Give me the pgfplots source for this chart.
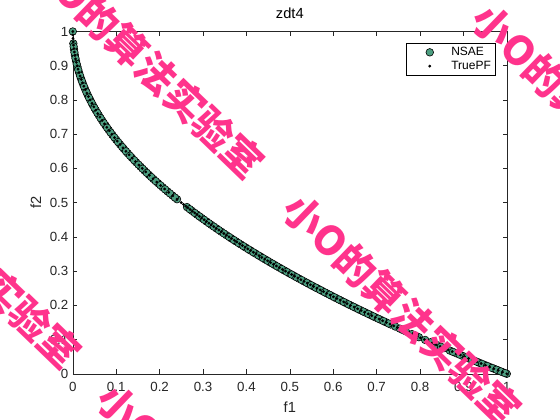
\documentclass[border=0pt]{standalone}
\usepackage{pgfplots}
\pgfplotsset{compat=1.18}
\usepackage{pgfplotstable}
\usepackage{fontspec}
\setmainfont{Liberation Sans}
\newfontfamily\cjk{Noto Sans CJK SC}
\definecolor{mgray}{rgb}{0.15,0.15,0.15}
\definecolor{nsae}{rgb}{0.30,0.62,0.50}
\definecolor{wm}{rgb}{1.0,0.2,0.55}

\pgfplotstableread{
f1 f2
0 1
0.001225 0.965
0.002704 0.948
0.004761 0.931
0.007396 0.914
0.010609 0.897
0.0144 0.88
0.018769 0.863
0.023409 0.847
0.028561 0.831
0.034225 0.815
0.04 0.8
0.046225 0.785
0.0529 0.77
0.060025 0.755
0.0676 0.74
0.075076 0.726
0.082944 0.712
0.091204 0.698
0.099856 0.684
0.1089 0.67
0.117649 0.657
0.126736 0.644
0.136161 0.631
0.145924 0.618
0.156025 0.605
0.165649 0.593
0.175561 0.581
0.185761 0.569
0.196249 0.557
0.207025 0.545
0.218089 0.533
0.229441 0.521
0.2401 0.51
0.263169 0.487
0.274576 0.476
0.286225 0.465
0.297025 0.455
0.308025 0.445
0.319225 0.435
0.330625 0.425
0.342225 0.415
0.354025 0.405
0.364816 0.396
0.375769 0.387
0.386884 0.378
0.398161 0.369
0.4096 0.36
0.421201 0.351
0.432964 0.342
0.443556 0.334
0.454276 0.326
0.465124 0.318
0.4761 0.31
0.487204 0.302
0.498436 0.294
0.509796 0.286
0.521284 0.278
0.5329 0.27
0.543169 0.263
0.553536 0.256
0.564001 0.249
0.574564 0.242
0.585225 0.235
0.595984 0.228
0.606841 0.221
0.617796 0.214
0.628849 0.207
0.64 0.2
0.651249 0.193
0.662596 0.186
0.674041 0.179
0.685584 0.172
0.697225 0.165
0.708964 0.158
0.720801 0.151
0.732736 0.144
0.743044 0.138
0.753424 0.132
0.767376 0.124
0.781456 0.116
0.797449 0.107
0.811801 0.099
0.824464 0.092
0.840889 0.083
0.855625 0.075
0.868624 0.068
0.8836 0.06
0.898704 0.052
0.912025 0.045
0.925444 0.038
0.937024 0.032
0.948676 0.026
0.9604 0.02
0.970225 0.015
0.9801 0.01
0.990025 0.005
1 0
0.001936 0.956
0.003721 0.939
0.006084 0.922
0.009025 0.905
0.012544 0.888
0.016641 0.871
0.021025 0.855
0.025921 0.839
0.031329 0.823
0.037249 0.807
0.043264 0.792
0.049729 0.777
0.056644 0.762
0.064009 0.747
0.071289 0.733
0.078961 0.719
0.087025 0.705
0.095481 0.691
0.104329 0.677
0.113569 0.663
0.1225 0.65
0.131769 0.637
0.141376 0.624
0.151321 0.611
0.160801 0.599
0.170569 0.587
0.180625 0.575
0.190969 0.563
0.201601 0.551
0.212521 0.539
0.223729 0.527
0.235225 0.515
0.269361 0.481
0.2809 0.47
0.2916 0.46
0.3025 0.45
0.3136 0.44
0.3249 0.43
0.3364 0.42
0.3481 0.41
0.36 0.4
0.370881 0.391
0.381924 0.382
0.393129 0.373
0.404496 0.364
0.416025 0.355
0.427716 0.346
0.438244 0.338
0.4489 0.33
0.459684 0.322
0.470596 0.314
0.481636 0.306
0.492804 0.298
0.5041 0.29
0.515524 0.282
0.527076 0.274
0.538756 0.266
0.549081 0.259
0.559504 0.252
0.570025 0.245
0.580644 0.238
0.591361 0.231
0.602176 0.224
0.613089 0.217
0.6241 0.21
0.635209 0.203
0.646416 0.196
0.657721 0.189
0.669124 0.182
0.680625 0.175
0.692224 0.168
0.703921 0.161
0.715716 0.154
0.727609 0.147
0.760384 0.128
0.788544 0.112
0.848241 0.079
0.876096 0.064
0.891136 0.056
0.906304 0.048
0.919681 0.041
0.931225 0.035
0.942841 0.029
0.954529 0.023
0.966289 0.017
0.976144 0.012
0.986049 0.007
0.996004 0.002
}\nsaedata

\pgfplotstableread{
f1 f2
0 1
0.0001 0.99
0.0004 0.98
0.0009 0.97
0.0016 0.96
0.0025 0.95
0.0036 0.94
0.0049 0.93
0.0064 0.92
0.0081 0.91
0.01 0.9
0.0121 0.89
0.0144 0.88
0.0169 0.87
0.0196 0.86
0.0225 0.85
0.0256 0.84
0.0289 0.83
0.0324 0.82
0.0361 0.81
0.04 0.8
0.0441 0.79
0.0484 0.78
0.0529 0.77
0.0576 0.76
0.0625 0.75
0.0676 0.74
0.0729 0.73
0.0784 0.72
0.0841 0.71
0.09 0.7
0.0961 0.69
0.1024 0.68
0.1089 0.67
0.1156 0.66
0.1225 0.65
0.1296 0.64
0.1369 0.63
0.1444 0.62
0.1521 0.61
0.16 0.6
0.1681 0.59
0.1764 0.58
0.1849 0.57
0.1936 0.56
0.2025 0.55
0.2116 0.54
0.2209 0.53
0.2304 0.52
0.2401 0.51
0.25 0.5
0.255025 0.495
0.2601 0.49
0.265225 0.485
0.2704 0.48
0.275625 0.475
0.2809 0.47
0.286225 0.465
0.2916 0.46
0.297025 0.455
0.3025 0.45
0.308025 0.445
0.3136 0.44
0.319225 0.435
0.3249 0.43
0.330625 0.425
0.3364 0.42
0.342225 0.415
0.3481 0.41
0.354025 0.405
0.36 0.4
0.366025 0.395
0.3721 0.39
0.378225 0.385
0.3844 0.38
0.390625 0.375
0.3969 0.37
0.403225 0.365
0.4096 0.36
0.416025 0.355
0.4225 0.35
0.429025 0.345
0.4356 0.34
0.442225 0.335
0.4489 0.33
0.455625 0.325
0.4624 0.32
0.469225 0.315
0.4761 0.31
0.483025 0.305
0.49 0.3
0.497025 0.295
0.5041 0.29
0.511225 0.285
0.5184 0.28
0.525625 0.275
0.5329 0.27
0.540225 0.265
0.5476 0.26
0.555025 0.255
0.5625 0.25
0.570025 0.245
0.5776 0.24
0.585225 0.235
0.5929 0.23
0.600625 0.225
0.6084 0.22
0.616225 0.215
0.6241 0.21
0.632025 0.205
0.64 0.2
0.648025 0.195
0.6561 0.19
0.664225 0.185
0.6724 0.18
0.680625 0.175
0.6889 0.17
0.697225 0.165
0.7056 0.16
0.714025 0.155
0.7225 0.15
0.731025 0.145
0.7396 0.14
0.748225 0.135
0.7569 0.13
0.765625 0.125
0.7744 0.12
0.783225 0.115
0.7921 0.11
0.801025 0.105
0.81 0.1
0.819025 0.095
0.8281 0.09
0.837225 0.085
0.8464 0.08
0.855625 0.075
0.8649 0.07
0.874225 0.065
0.8836 0.06
0.893025 0.055
0.9025 0.05
0.912025 0.045
0.9216 0.04
0.931225 0.035
0.9409 0.03
0.950625 0.025
0.9604 0.02
0.970225 0.015
0.9801 0.01
0.990025 0.005
1 0
}\truepf

\begin{document}
\begin{tikzpicture}[x=1pt,y=1pt]
\clip (0,0) rectangle (560,420);
\fill[white] (0,0) rectangle (560,420);
\begin{axis}[
  at={(72.8pt,46.2pt)}, anchor=south west,
  scale only axis, width=434pt, height=342.3pt,
  xmin=0, xmax=1, ymin=0, ymax=1,
  xtick={0,0.1,0.2,0.3,0.4,0.5,0.6,0.7,0.8,0.9,1},
  ytick={0,0.1,0.2,0.3,0.4,0.5,0.6,0.7,0.8,0.9,1},
  xticklabels={0,0.1,0.2,0.3,0.4,0.5,0.6,0.7,0.8,0.9,1},
  yticklabels={0,0.1,0.2,0.3,0.4,0.5,0.6,0.7,0.8,0.9,1},
  tick align=inside, major tick length=4.3pt,
  xtick pos=both, ytick pos=both,
  axis line style={color=mgray, line width=0.5pt},
  every tick/.style={color=mgray, line width=0.5pt},
  tick label style={font=\fontsize{13.3}{16}\selectfont, text=mgray},
  xticklabel style={yshift=-5pt},
  yticklabel style={xshift=-1pt},
  xlabel={f1}, ylabel={f2},
  label style={font=\fontsize{14.67}{17}\selectfont, text=mgray},
  xlabel style={at={(axis description cs:0.5,-0.097)}, anchor=center},
  ylabel style={at={(axis description cs:-0.085,0.5)}, anchor=center},
  title={zdt4},
  title style={font=\fontsize{14.67}{17}\selectfont, at={(axis description cs:0.5,1.0356)}, anchor=center},
  legend style={at={(0.973,0.966)}, anchor=north east, draw=black, line width=0.5pt,
    fill=white, font=\fontsize{12}{14}\selectfont, inner xsep=2pt, inner ysep=2pt,
    row sep=0pt},
  legend cell align=left,
  legend image code/.code={\path[draw=none, fill=none] (0pt,-1pt) rectangle (41pt,1pt);
    \draw[mark repeat=2, mark phase=2, #1] plot coordinates {(0pt,0pt)(21.5pt,0pt)(41pt,0pt)};},
]
\addplot[only marks, mark=*, mark size=3.8pt, mark options={fill=nsae, draw=black, line width=0.6pt}]
  table[x=f1,y=f2] {\nsaedata};
\addlegendentry{NSAE}
\addplot[only marks, mark=*, mark size=1.2pt, mark options={fill=black, draw=black}]
  table[x=f1,y=f2] {\truepf};
\addlegendentry{TruePF}
\end{axis}
\begin{scope}[every node/.style={inner sep=0pt, anchor=west, rotate=-44, text=wm,
    font=\cjk\bfseries\fontsize{40}{42}\selectfont}]
\node at (33,465.9) {小O的算法实验室};
\node at (479,408.9) {小O的算法实验室};
\node at (290,218.9) {小O的算法实验室};
\node at (-150,275.9) {小O的算法实验室};
\node at (104,28.9) {小O的算法实验室};
\end{scope}
\end{tikzpicture}
\end{document}
